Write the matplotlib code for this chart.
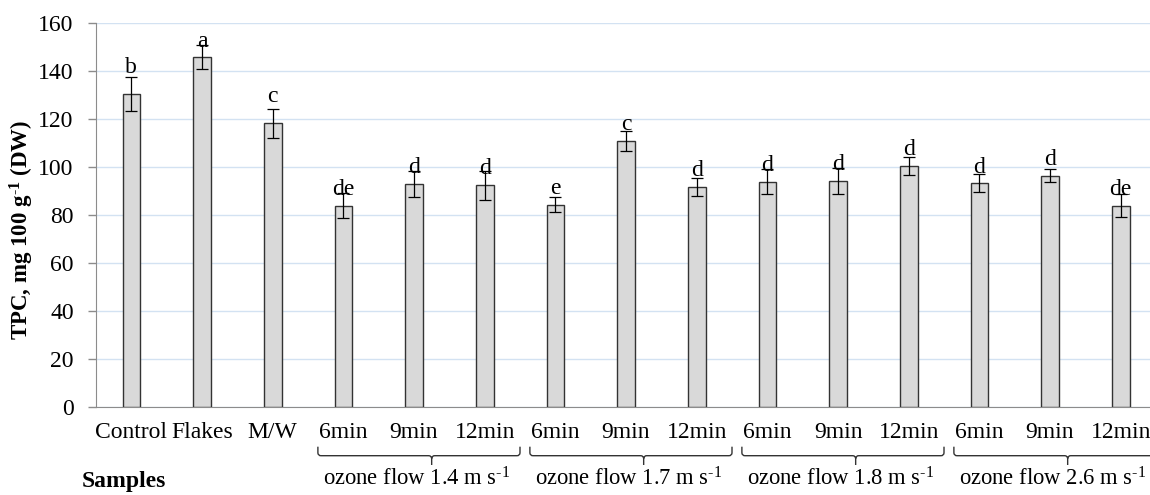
import matplotlib
matplotlib.use("Agg")
import matplotlib.pyplot as plt
from matplotlib.path import Path
from matplotlib.patches import PathPatch
import numpy as np

# ---------------- data ----------------
categories = ["Control", "Flakes", "M/W",
              "6min", "9min", "12min",
              "6min", "9min", "12min",
              "6min", "9min", "12min",
              "6min", "9min", "12min"]
tpc_values = [130.5, 145.7, 118.2,
              83.9, 92.8, 92.4,
              84.3, 111.0, 91.7,
              93.8, 94.2, 100.4,
              93.2, 96.4, 83.9]
tpc_errors = [7.0, 5.0, 6.1,
              5.2, 5.5, 6.0,
              3.2, 4.2, 3.6,
              5.2, 5.3, 3.9,
              3.7, 2.6, 4.7]
sig_letters = ["b", "a", "c",
               "de", "d", "d",
               "e", "c", "d",
               "d", "d", "d",
               "d", "d", "de"]
group_labels = ["ozone flow 1.4 m s$^{\\text{-}1}$", "ozone flow 1.7 m s$^{\\text{-}1}$",
                "ozone flow 1.8 m s$^{\\text{-}1}$", "ozone flow 2.6 m s$^{\\text{-}1}$"]
group_members = [(3, 5), (6, 8), (9, 11), (12, 14)]
y_ticks = [0, 20, 40, 60, 80, 100, 120, 140, 160]

# ---------------- style ----------------
plt.rcParams["font.family"] = ["Liberation Serif", "DejaVu Serif"]
plt.rcParams["mathtext.fontset"] = "custom"
plt.rcParams["mathtext.rm"] = "Liberation Serif"
plt.rcParams["mathtext.it"] = "Liberation Serif:italic"
plt.rcParams["mathtext.bf"] = "Liberation Serif:bold"
FS = 17

W, H = 1150, 495
fig = plt.figure(figsize=(W / 100, H / 100), dpi=100)
ax_left, ax_right, ax_top, ax_bot = 96, 1156, 23, 407
ax = fig.add_axes([ax_left / W, 1 - ax_bot / H, (ax_right - ax_left) / W, (ax_bot - ax_top) / H])

x = np.arange(len(categories))
ax.bar(x, tpc_values, width=0.25, color="#d9d9d9", edgecolor="#333333", linewidth=1.0, zorder=3)
ax.errorbar(x, tpc_values, yerr=tpc_errors, fmt="none", ecolor="black", elinewidth=0.9,
            capsize=4, capthick=0.9, zorder=4)

lift = {0: 8.5, 2: 9.0}
for i, (v, s) in enumerate(zip(tpc_values, sig_letters)):
    ax.text(i, v + lift.get(i, 4.5), s, ha="center", va="baseline", fontsize=FS, zorder=5)

ax.set_xlim(-0.5, len(categories) - 0.5)
ax.set_ylim(0, 160)
ax.set_yticks(y_ticks)
ax.yaxis.grid(True, color="#d3e2f2", linewidth=1.0, zorder=0)
ax.set_axisbelow(True)
for sp in ["top", "right"]:
    ax.spines[sp].set_visible(False)
ax.spines["left"].set_color("#8c8c8c")
ax.spines["bottom"].set_color("#8c8c8c")
ax.tick_params(axis="y", direction="out", length=6, width=1, color="#8c8c8c",
               labelsize=FS, pad=10)
ax.set_xticks(x)
ax.set_xticklabels(categories, fontsize=FS)
ax.tick_params(axis="x", length=0, pad=11)

fig.text(22 / W, 1 - 230 / H, "TPC, mg 100 g$^{\\mathbf{\\text{-}1}}$ (DW)", rotation=90,
         ha="center", va="center", fontsize=16.5, fontweight="bold")

# ---------------- braces and group labels ----------------
trans = ax.get_xaxis_transform()
axh = ax_bot - ax_top
def yf(py):
    return (ax_bot - py) / axh

y_top, y_mid, y_bot = yf(446.7), yf(455.7), yf(465.0)
rx = 3.0 / 70.7
ry = 3.0 / axh
for (a, b), lab in zip(group_members, group_labels):
    x0, x1 = a - 0.36, b + 0.5
    xm = (a + b) / 2 + 0.25
    verts = [(x0, y_top), (x0, y_mid + ry), (x0, y_mid), (x0 + rx, y_mid),
             (xm - rx, y_mid), (xm, y_mid), (xm, y_mid - ry), (xm, y_bot),
             (xm, y_mid - ry), (xm, y_mid), (xm + rx, y_mid),
             (x1 - rx, y_mid), (x1, y_mid), (x1, y_mid + ry), (x1, y_top)]
    codes = [Path.MOVETO, Path.LINETO, Path.CURVE3, Path.CURVE3,
             Path.LINETO, Path.CURVE3, Path.CURVE3, Path.LINETO,
             Path.MOVETO, Path.CURVE3, Path.CURVE3,
             Path.LINETO, Path.CURVE3, Path.CURVE3, Path.LINETO]
    ax.add_patch(PathPatch(Path(verts, codes), transform=trans, fill=False,
                           edgecolor="#333333", linewidth=1.0, clip_on=False))
    ax.text((a + b) / 2 + 0.04, yf(485), lab, transform=trans, ha="center",
            va="baseline", fontsize=16.3, clip_on=False)

fig.text(81.7 / W, 1 - 486.7 / H, "Samples", ha="left", va="baseline",
         fontsize=FS, fontweight="bold")

fig.savefig("out.png", dpi=100)
